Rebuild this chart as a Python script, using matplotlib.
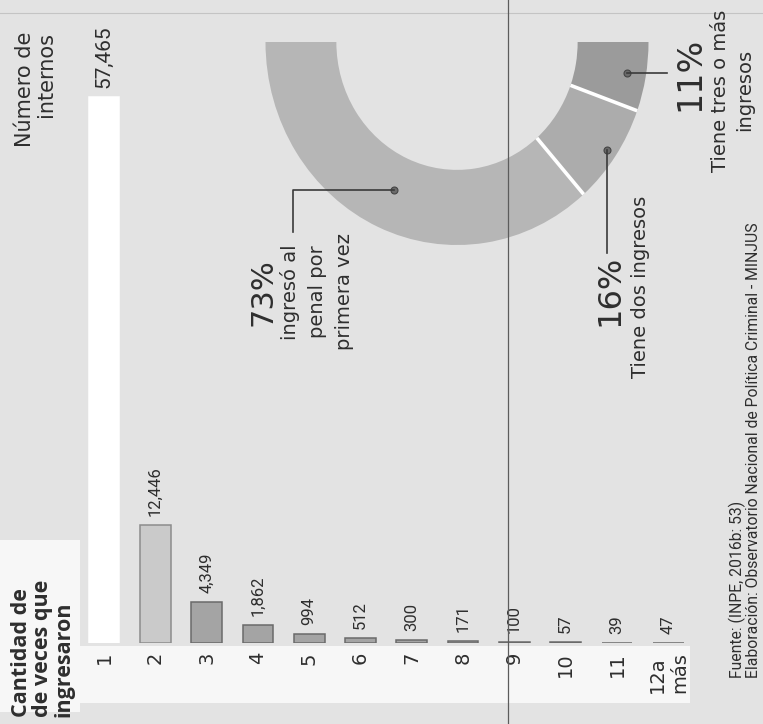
import matplotlib
matplotlib.use('Agg')
import matplotlib.pyplot as plt
import numpy as np
from matplotlib.lines import Line2D
from matplotlib.patches import Rectangle

# ---------------- data ----------------
categories = ['1', '2', '3', '4', '5', '6', '7', '8', '9', '10', '11', '12a\nmás']
values = [57465, 12446, 4349, 1862, 994, 512, 300, 171, 100, 57, 39, 47]
value_labels = ['57,465', '12,446', '4,349', '1,862', '994', '512', '300',
                '171', '100', '57', '39', '47']
share_values = [73, 16, 11]
share_labels = ['73%', '16%', '11%']
share_texts = [['ingresó al', 'penal por', 'primera vez'],
               ['Tiene dos ingresos'],
               ['Tiene tres o más', 'ingresos']]
title_lines = ['Cantidad de', 'de veces que', 'ingresaron']
ytitle_lines = ['Número de', 'internos']
footer_lines = ['Fuente: (INPE, 2016b: 53)',
                'Elaboración: Observatorio Nacional de Política Criminal - MINJUS']

# ---------------- layout helpers ----------------
W, H = 763, 724
BG = '#e3e3e3'
TXT = '#2e2e2e'
ROB = ['Roboto', 'DejaVu Sans']
OPS = ['Open Sans', 'DejaVu Sans']
DJV = ['DejaVu Sans']

fig = plt.figure(figsize=(W / 100, H / 100), dpi=100, facecolor=BG)


def fx(px):
    return px / W


def fy(py):
    return 1 - py / H


def ptext(px, py, s, size, family=DJV, ha='center', va='center', **kw):
    fig.text(fx(px), fy(py), s, rotation=90, fontsize=size, family=family,
             ha=ha, va=va, color=kw.pop('color', TXT), **kw)


# white paper patches of the scan
for (x0, y0, x1, y1) in [(0, 540, 80, 712), (80, 646, 690, 703)]:
    fig.add_artist(Rectangle((fx(x0), fy(y1)), (x1 - x0) / W, (y1 - y0) / H,
                             transform=fig.transFigure, color='#f7f7f7',
                             zorder=-2, lw=0))

# ---------------- bar chart ----------------
ax_left_px, ax_right_px = 60, 720
x0_px, dx_px = 104, 51.3
base_px, top_px = 643, 20
scale_top_px = 97
ax = fig.add_axes([fx(ax_left_px), fy(base_px),
                   (ax_right_px - ax_left_px) / W, (base_px - top_px) / H])
ax.patch.set_alpha(0)
ax.set_xlim((ax_left_px - x0_px) / dx_px, (ax_right_px - x0_px) / dx_px)
ax.set_ylim(0, values[0] * (base_px - top_px) / (base_px - scale_top_px))

x = np.arange(len(values))
bar_colors = ['#ffffff', '#cacaca'] + ['#a4a4a4'] * (len(values) - 2)
edge_colors = ['#ffffff', '#8c8c8c'] + ['#6a6a6a'] * (len(values) - 2)
ax.bar(x, values, width=0.6, color=bar_colors, edgecolor=edge_colors,
       linewidth=1.1)

for xi, v, lab in zip(x, values, value_labels):
    ax.annotate(lab, (xi, v), xytext=(0, 9), textcoords='offset pixels',
                rotation=90, ha='center', va='bottom',
                fontsize=15 if xi == 0 else 12, family=ROB, color=TXT)

ax.set_xticks(x)
ax.set_xticklabels(categories, rotation=90, fontsize=14, family=DJV,
                   color=TXT, multialignment='left')
ax.tick_params(axis='x', length=0, pad=6.5)
ax.set_yticks([])
for s in ax.spines.values():
    s.set_visible(False)

# ---------------- half donut ----------------
cx, cy, rx, ry = 457, 42, 191.5, 203
dax = fig.add_axes([fx(cx - 1.1 * rx), fy(cy + 1.1 * ry), 2.2 * rx / W, 1.2 * ry / H])
total = 2 * sum(share_values)
ring_colors = ['#b6b6b6', '#acacac', '#9b9b9b', 'none']
dax.pie(share_values + [sum(share_values)], startangle=180, counterclock=True,
        radius=1, colors=ring_colors, wedgeprops=dict(width=0.37, linewidth=0))
dax.set_aspect('auto')
dax.set_xlim(-1.1, 1.1)
dax.set_ylim(-1.1, 0.1)
dax.axis('off')

# white separators between segments
for c in np.cumsum(share_values)[:-1]:
    th = np.deg2rad(180 + 360 * c / total)
    r = np.array([0.63, 1.0])
    dax.plot(r * np.cos(th), r * np.sin(th), color='white', lw=2.6,
             solid_capstyle='butt')

mids = 180 + 360 * (np.cumsum(share_values) - np.array(share_values) / 2) / total
dot_r = [0.8, 0.95, 0.9]


def dpx(px):
    return (px - cx) / rx


def dpy(py):
    return -(py - cy) / ry


LC = '#3a3a3a'
dots = []
for m, r in zip(mids, dot_r):
    th = np.deg2rad(m)
    dots.append((r * np.cos(th), r * np.sin(th)))
    dax.plot(*dots[-1], 'o', ms=5, color='#6a6a6a', mec='#444444', mew=0.8)

# leaders
d = dots[0]
dax.plot([d[0], dpx(293), dpx(293)], [d[1], d[1], dpy(232)], color=LC, lw=1.2)
d = dots[1]
dax.plot([d[0], d[0]], [d[1], dpy(253)], color=LC, lw=1.2)
d = dots[2]
dax.plot([d[0], dpx(667)], [d[1], d[1]], color=LC, lw=1.2)

# percentages and descriptions
ptext(263, 292, share_labels[0], 22)
for i, line in enumerate(share_texts[0]):
    ptext(290 + 27.5 * i, 292, line, 14)
ptext(610, 290, share_labels[1], 23)
ptext(641, 287, share_texts[1][0], 14)
ptext(690, 74, share_labels[2], 24)
ptext(721, 91, share_texts[2][0], 14)
ptext(745, 90, share_texts[2][1], 14)

# ---------------- titles & footer ----------------
for i, line in enumerate(title_lines):
    ptext(21.5 + 21 * i, 717, line, 15.5, family=OPS, va='bottom',
          fontweight='bold')
for i, line in enumerate(ytitle_lines):
    ptext(25.5 + 20 * i, 32, line, 15, va='top')
for i, line in enumerate(footer_lines):
    ptext(737 + 16 * i, 678, line, 11.3, family=ROB, va='bottom')

# fold line of the scanned page and faint top rule
fig.add_artist(Line2D([fx(508), fx(508)], [0, 1], transform=fig.transFigure,
                      color='#5c5c5c', lw=0.9, zorder=10))
fig.add_artist(Line2D([0, 1], [fy(13), fy(13)], transform=fig.transFigure,
                      color='#c4c4c4', lw=0.8, zorder=-1))

fig.savefig('out.png', dpi=100, facecolor=BG)
